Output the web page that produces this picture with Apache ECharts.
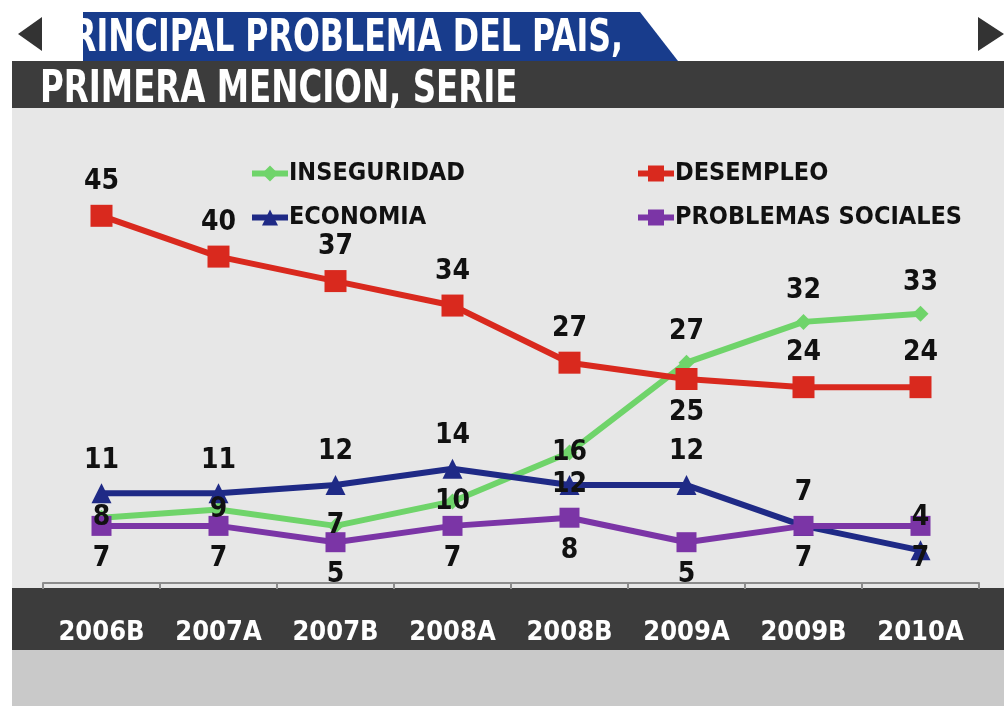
<!DOCTYPE html>
<html>
<head>
<meta charset="utf-8">
<script src="https://cdn.jsdelivr.net/npm/echarts@6/dist/echarts.min.js"></script>
<style>
  html, body { margin: 0; padding: 0; background: #fff; }
  #chart { width: 1004px; height: 710px; }
</style>
</head>
<body>
<div id="chart"></div>
<script>
// data
const periods = ['2006B', '2007A', '2007B', '2008A', '2008B', '2009A', '2009B', '2010A']
const inseguridad = [8, 9, 7, 10, 16, 27, 32, 33]
const desempleo = [45, 40, 37, 34, 27, 25, 24, 24]
const economia = [11, 11, 12, 14, 12, 12, 7, 4]
const problemasSociales = [7, 7, 5, 7, 8, 5, 7, 7]

const titleLine1 = 'RINCIPAL PROBLEMA DEL PAIS,'
const titleLine2 = 'PRIMERA MENCION, SERIE'

const FONT = '"DejaVu Sans Condensed", "Liberation Sans Narrow", sans-serif'

const labelStyle = {
  show: true,
  color: '#111',
  fontFamily: FONT,
  fontWeight: 'bold',
  fontSize: 28,
  distance: 9
}

// label placement per point, the way the original figure has them
const withLabels = (values, pick) =>
  values.map((v, i) => ({ value: v, label: { position: pick(i) } }))

const makeSeries = (name, values, color, symbol, size, pick) => ({
  name,
  type: 'line',
  data: withLabels(values, pick),
  symbol,
  symbolSize: size,
  lineStyle: { color, width: 6 },
  itemStyle: { color },
  label: labelStyle
})

const series = [
  makeSeries('INSEGURIDAD', inseguridad, '#6fd46a', 'diamond', 16, i => (i < 5 ? 'inside' : 'top')),
  makeSeries('ECONOMIA', economia, '#1f2a86', 'triangle', 20, i => (i === 4 ? 'inside' : 'top')),
  makeSeries('PROBLEMAS SOCIALES', problemasSociales, '#7b35a6', 'rect', 20, () => 'bottom'),
  makeSeries('DESEMPLEO', desempleo, '#d9291e', 'rect', 22, i => (i === 5 ? 'bottom' : 'top'))
]

const legendBase = {
  orient: 'vertical',
  top: 156,
  itemGap: 19,
  itemWidth: 36,
  itemHeight: 20,
  lineStyle: { width: 6 },
  textStyle: { color: '#111', fontFamily: FONT, fontWeight: 'bold', fontSize: 25, padding: [0, 0, 0, -4] }
}

const option = {
  backgroundColor: '#fff',
  animation: false,
  graphic: [
    { type: 'rect', shape: { x: 12, y: 108, width: 992, height: 480 }, style: { fill: '#e7e7e7' }, z: -10 },
    { type: 'rect', shape: { x: 12, y: 588, width: 992, height: 62 }, style: { fill: '#3c3c3c' }, z: -10 },
    { type: 'rect', shape: { x: 12, y: 650, width: 992, height: 56 }, style: { fill: '#c9c9c9' }, z: -10 },
    { type: 'rect', shape: { x: 12, y: 61, width: 992, height: 47 }, style: { fill: '#3c3c3c' }, z: -10 },
    { type: 'polygon', shape: { points: [[83, 12], [640, 12], [678, 61], [83, 61]] }, style: { fill: '#183c8c' }, z: -9 },
    {
      type: 'text', x: 72, y: 40, scaleX: 0.8, z: 5,
      style: { text: titleLine1, fill: '#fff', fontFamily: FONT, fontWeight: 'bold', fontSize: 44, verticalAlign: 'middle' }
    },
    { type: 'rect', shape: { x: 0, y: 0, width: 80, height: 60 }, style: { fill: '#fff' }, z: 6 },
    { type: 'polygon', shape: { points: [[18, 34], [42, 17], [42, 51]] }, style: { fill: '#333' }, z: 7 },
    { type: 'polygon', shape: { points: [[978, 17], [1004, 34], [978, 51]] }, style: { fill: '#333' }, z: 7 },
    {
      type: 'text', x: 40, y: 91, scaleX: 0.82, z: 5,
      style: { text: titleLine2, fill: '#fff', fontFamily: FONT, fontWeight: 'bold', fontSize: 44, verticalAlign: 'middle' }
    }
  ],
  legend: [
    Object.assign({ data: ['INSEGURIDAD', 'ECONOMIA'], left: 244 }, legendBase),
    Object.assign({ data: ['DESEMPLEO', 'PROBLEMAS SOCIALES'], left: 630 }, legendBase)
  ],
  grid: { left: 43, right: 25, top: 175, bottom: 127 },
  xAxis: {
    type: 'category',
    data: periods,
    boundaryGap: true,
    axisLine: { lineStyle: { color: '#8c8c8c', width: 2 } },
    axisTick: { show: true, length: 6, lineStyle: { color: '#8c8c8c', width: 2 } },
    axisLabel: { interval: 0, color: '#fff', fontFamily: FONT, fontWeight: 'bold', fontSize: 27, margin: 36 }
  },
  yAxis: {
    type: 'value',
    min: 0,
    max: 50,
    show: false,
    splitLine: { show: false }
  },
  series
}

const chart = echarts.init(document.getElementById('chart'))
chart.setOption(option)
</script>
</body>
</html>
